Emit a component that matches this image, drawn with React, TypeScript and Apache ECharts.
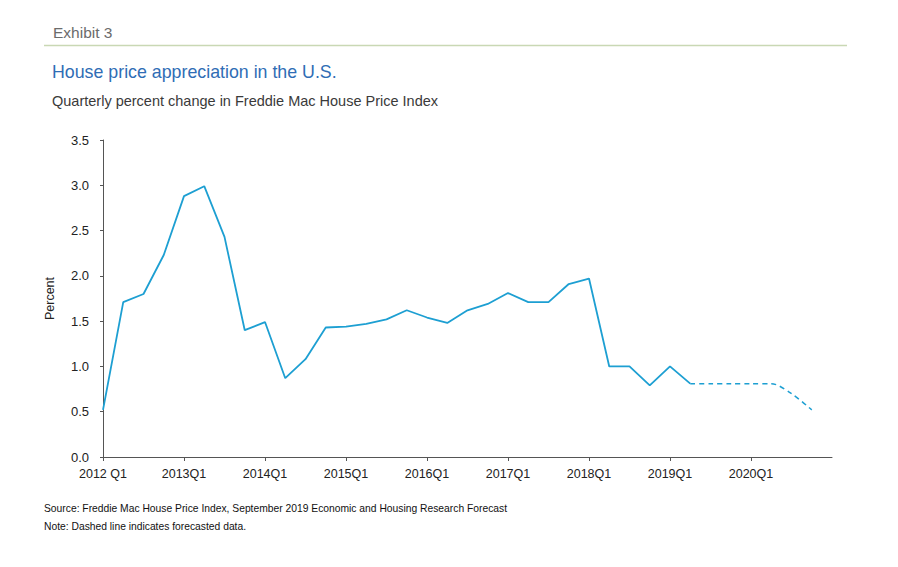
import React, { useEffect, useRef } from "react";
import * as echarts from "echarts";

const categories = [
  "2012 Q1", "2012Q2", "2012Q3", "2012Q4",
  "2013Q1", "2013Q2", "2013Q3", "2013Q4",
  "2014Q1", "2014Q2", "2014Q3", "2014Q4",
  "2015Q1", "2015Q2", "2015Q3", "2015Q4",
  "2016Q1", "2016Q2", "2016Q3", "2016Q4",
  "2017Q1", "2017Q2", "2017Q3", "2017Q4",
  "2018Q1", "2018Q2", "2018Q3", "2018Q4",
  "2019Q1", "2019Q2", "2019Q3", "2019Q4",
  "2020Q1", "2020Q2", "2020Q3", "2020Q4",
  "2021Q1",
];

const actualValues = [
  0.52, 1.71, 1.80, 2.23, 2.88, 2.99, 2.43, 1.40, 1.49, 0.87, 1.08, 1.43,
  1.44, 1.47, 1.52, 1.62, 1.54, 1.48, 1.62, 1.69, 1.81, 1.71, 1.71, 1.91,
  1.97, 1.00, 1.00, 0.79, 1.00, 0.81,
];

// forecast starts at the last actual quarter (2019Q2)
const forecastStartIndex = 29;
const forecastValues = [0.81, 0.81, 0.81, 0.81, 0.81, 0.70, 0.52];

const yTicks = { min: 0, max: 3.5, interval: 0.5 };

const FONT = "'Liberation Sans', Arial, Helvetica, sans-serif";
const LINE_COLOR = "#1d9fd2";

export default function App() {
  const ref = useRef<HTMLDivElement>(null);

  useEffect(() => {
    document.body.style.margin = "0";
    if (!ref.current) return;
    const chart = echarts.init(ref.current, undefined, { renderer: "svg" });

    const solid = categories.map((_, i) => (i < actualValues.length ? actualValues[i] : null));
    const dashed = categories.map((_, i) => {
      const k = i - forecastStartIndex;
      return k >= 0 && k < forecastValues.length ? forecastValues[k] : null;
    });

    chart.setOption({
      animation: false,
      backgroundColor: "#ffffff",
      textStyle: { fontFamily: FONT },
      grid: { left: 103, right: 66, top: 140, bottom: 110, containLabel: false },
      xAxis: {
        type: "category",
        data: categories,
        boundaryGap: false,
        axisLine: { lineStyle: { color: "#555", width: 1 } },
        axisTick: {
          length: 4,
          interval: (i: number) => i % 4 === 0 && i < 36,
          lineStyle: { color: "#555" },
        },
        axisLabel: {
          interval: (i: number) => i % 4 === 0 && i < 36,
          color: "#222",
          fontSize: 12.5,
          fontFamily: FONT,
          margin: 10,
        },
        splitLine: { show: false },
      },
      yAxis: {
        type: "value",
        min: yTicks.min,
        max: yTicks.max,
        interval: yTicks.interval,
        name: "Percent",
        nameLocation: "middle",
        nameRotate: 90,
        nameGap: 47,
        nameTextStyle: { color: "#222", fontSize: 12.5, fontFamily: FONT },
        axisLine: { show: true, lineStyle: { color: "#555", width: 1 } },
        axisTick: { show: true, length: 3, lineStyle: { color: "#555" } },
        axisLabel: {
          color: "#222",
          fontSize: 13,
          fontFamily: FONT,
          margin: 14,
          formatter: (v: number) => v.toFixed(1),
        },
        splitLine: { show: false },
      },
      series: [
        {
          type: "line",
          data: solid,
          symbol: "none",
          connectNulls: false,
          lineStyle: { color: LINE_COLOR, width: 1.8 },
          z: 3,
        },
        {
          type: "line",
          data: dashed,
          symbol: "none",
          smooth: 0.3,
          connectNulls: false,
          lineStyle: { color: LINE_COLOR, width: 1.5, type: [5, 4] },
          z: 2,
        },
      ],
      graphic: [
        {
          type: "text",
          left: 53,
          top: 24,
          style: { text: "Exhibit 3", fill: "#6b6b6b", fontSize: 15.5, fontFamily: FONT },
        },
        {
          type: "line",
          shape: { x1: 44, y1: 45.5, x2: 847, y2: 45.5 },
          style: { stroke: "#c9d8b4", lineWidth: 1.5 },
        },
        {
          type: "text",
          left: 52,
          top: 63,
          style: {
            text: "House price appreciation in the U.S.",
            fill: "#2f6db5",
            fontSize: 17.8,
            fontFamily: FONT,
          },
        },
        {
          type: "text",
          left: 52,
          top: 93,
          style: {
            text: "Quarterly percent change in Freddie Mac House Price Index",
            fill: "#3a3a3a",
            fontSize: 14.5,
            fontFamily: FONT,
          },
        },
        {
          type: "text",
          left: 44,
          top: 503,
          style: {
            text: "Source: Freddie Mac House Price Index, September 2019 Economic and Housing Research Forecast",
            fill: "#111",
            fontSize: 10.3,
            fontFamily: FONT,
          },
        },
        {
          type: "text",
          left: 44,
          top: 521,
          style: {
            text: "Note: Dashed line indicates forecasted data.",
            fill: "#111",
            fontSize: 10.3,
            fontFamily: FONT,
          },
        },
      ],
    });

    return () => chart.dispose();
  }, []);

  return <div ref={ref} style={{ width: 898, height: 567 }} />;
}
